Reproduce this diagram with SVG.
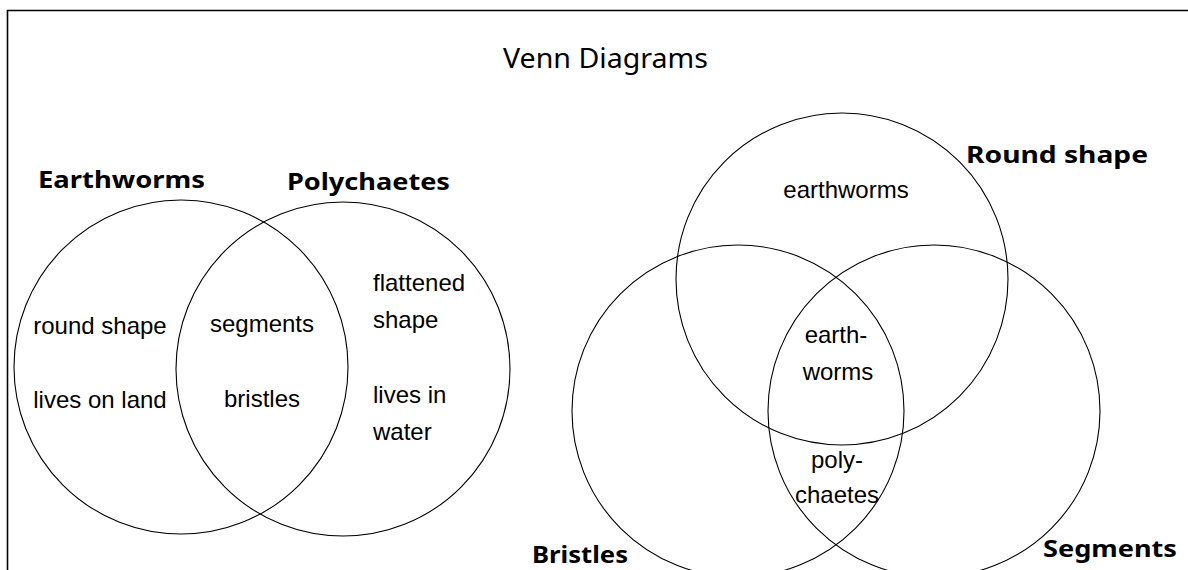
<svg xmlns="http://www.w3.org/2000/svg" width="1188" height="570" viewBox="0 0 1188 570">
<style>
.bg{fill:#ffffff}
.frame{fill:none;stroke:#000;stroke-width:1.6}
.set{fill:none;stroke:#000;stroke-width:1.1}
.title{font-family:"Noto Sans","Open Sans","Liberation Sans",sans-serif;font-size:28px;fill:#000}
.lab{font-family:"Noto Sans","Open Sans","Liberation Sans",sans-serif;font-size:23.5px;font-weight:bold;fill:#000}
.txt{font-family:"Liberation Sans",Arial,sans-serif;font-size:24px;fill:#000}
.mid{text-anchor:middle}
</style>
<rect class="bg" x="0" y="0" width="1188" height="570"/>
<path class="frame" d="M7.5,570 V10.5 H1188"/>
<text id="title" class="title" x="503" y="68" textLength="205" lengthAdjust="spacingAndGlyphs">Venn Diagrams</text>

<g id="two-set">
  <g id="set-earthworms">
    <circle class="set" cx="181" cy="367" r="167"/>
    <text class="lab" x="38" y="188" textLength="167" lengthAdjust="spacingAndGlyphs">Earthworms</text>
    <text class="txt mid" x="100" y="334">round shape</text>
    <text class="txt mid" x="100" y="408">lives on land</text>
  </g>
  <g id="set-polychaetes">
    <circle class="set" cx="343" cy="369" r="167"/>
    <text class="lab" x="287" y="190" textLength="163" lengthAdjust="spacingAndGlyphs">Polychaetes</text>
    <text class="txt" x="373" y="291">flattened</text>
    <text class="txt" x="373" y="328">shape</text>
    <text class="txt" x="373" y="403">lives in</text>
    <text class="txt" x="373" y="440">water</text>
  </g>
  <g id="overlap-two">
    <text class="txt mid" x="262" y="332">segments</text>
    <text class="txt mid" x="262" y="407">bristles</text>
  </g>
</g>

<g id="three-set">
  <g id="set-round-shape">
    <circle class="set" cx="842" cy="279" r="166"/>
    <text class="lab" x="966" y="163" textLength="182" lengthAdjust="spacingAndGlyphs">Round shape</text>
    <text class="txt mid" x="846" y="198">earthworms</text>
  </g>
  <g id="set-bristles">
    <circle class="set" cx="738" cy="411" r="166"/>
    <text class="lab" x="532" y="563" textLength="96" lengthAdjust="spacingAndGlyphs">Bristles</text>
  </g>
  <g id="set-segments">
    <circle class="set" cx="934" cy="411" r="166"/>
    <text class="lab" x="1043" y="557" textLength="134" lengthAdjust="spacingAndGlyphs">Segments</text>
  </g>
  <g id="overlap-three">
    <text class="txt mid" x="836" y="343">earth-</text>
    <text class="txt mid" x="838" y="380">worms</text>
    <text class="txt mid" x="837" y="468">poly-</text>
    <text class="txt mid" x="837" y="503">chaetes</text>
  </g>
</g>
</svg>
